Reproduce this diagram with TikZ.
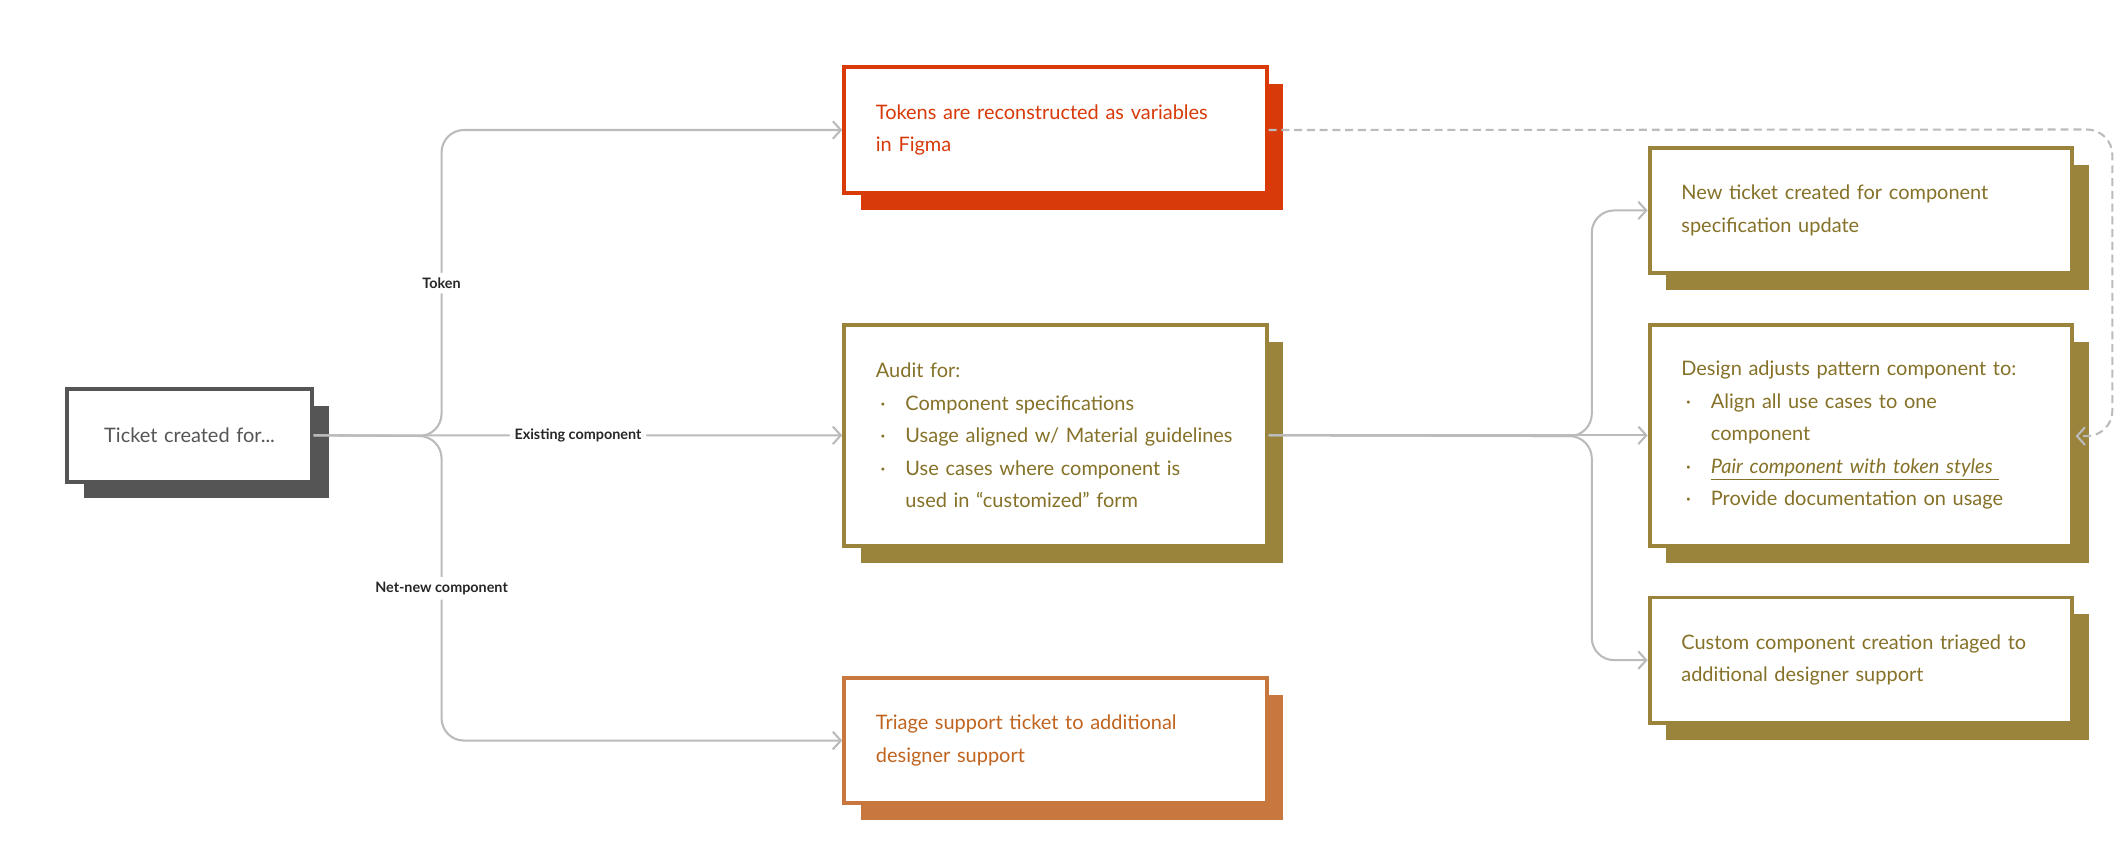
\documentclass[tikz,border=0pt]{standalone}
\usepackage{fontspec}
\setmainfont{Lato}
\usetikzlibrary{shadows,arrows.meta}

\definecolor{tokred}{HTML}{D83A0A}
\definecolor{olivebox}{HTML}{9A843C}
\definecolor{olivetext}{HTML}{857127}
\definecolor{triorange}{HTML}{C8773E}
\definecolor{tritext}{HTML}{C0641F}
\definecolor{darkbox}{HTML}{555555}
\definecolor{conngray}{HTML}{BBBBBB}

\tikzset{
  card/.style={draw=#1, fill=white, line width=2.4pt, anchor=north west,
    minimum width=9.3cm, text width=7.9cm, inner xsep=0.69cm, align=left,
    font=\fontsize{12.5}{20.4}\selectfont,
    general shadow={fill=#1, shadow xshift=0.37cm, shadow yshift=-0.37cm}},
  conn/.style={draw=conngray, line width=1.3pt, rounded corners=14pt,
    -{Straight Barb[length=5pt,width=11pt,line width=1.3pt]}},
  lbl/.style={fill=white, inner sep=3pt, font=\fontsize{9}{10}\selectfont\bfseries, text=black!85}
}
\newcommand{\itm}[1]{\makebox[0.65cm][l]{\hspace{0.1cm}·}#1}
\newcommand{\itmcont}[1]{\makebox[0.65cm][l]{}#1}

\begin{document}
\begin{tikzpicture}[x=0.03cm,y=-0.03cm]
  \useasboundingbox (0,0) rectangle (1560,634);

  \node [card=darkbox, text=darkbox, minimum width=5.3cm, text width=4cm,
         minimum height=2.04cm, align=center] (ticket) at (48,284) {Ticket created for...};
  \node [card=tokred, text=tokred, minimum height=2.76cm] (tokens) at (618,48)
        {Tokens are reconstructed as variables\\in Figma};
  \node [card=olivebox, text=olivetext, minimum height=4.86cm] (audit) at (618,237)
        {Audit for:\\\itm{Component specifications}\\\itm{Usage aligned w/ Material guidelines}\\
         \itm{Use cases where component is}\\\itmcont{used in “customized” form}};
  \node [card=triorange, text=tritext, minimum height=2.76cm] (triage) at (618,496)
        {Triage support ticket to additional\\designer support};

  \node [card=olivebox, text=olivetext, minimum height=2.76cm] (newticket) at (1209,107)
        {New ticket created for component\\specification update};
  \node [card=olivebox, text=olivetext, minimum height=4.86cm] (design) at (1209,237)
        {Design adjusts pattern component to:\\\itm{Align all use cases to one}\\\itmcont{component}\\
         \itm{\underline{\itshape Pair component with token styles\ }}\\\itm{Provide documentation on usage}};
  \node [card=olivebox, text=olivetext, minimum height=2.76cm] (custom) at (1209,437)
        {Custom component creation triaged to\\additional designer support};

  % branches out of the ticket
  \coordinate (split) at (324,320);
  \draw [conn] (ticket.east) -- (split) |- node[lbl, pos=0.25] {Token} (tokens.west);
  \draw [conn] (ticket.east) -- node[lbl] {Existing component} (audit.west);
  \draw [conn] (ticket.east) -- (split) |- node[lbl, pos=0.25] {Net-new component} (triage.west);

  % branches out of the audit
  \coordinate (split2) at (1168,320);
  \draw [conn] (audit.east) -- (split2) |- (newticket.west);
  \draw [conn] (audit.east) -- (design.west);
  \draw [conn] (audit.east) -- (split2) |- (custom.west);

  % token feedback
  \coordinate (back) at (1523,320);
  \draw [conn, dashed, dash pattern=on 5pt off 3pt, rounded corners=16pt]
        (tokens.east) -- (1550,95) |- (back);
\end{tikzpicture}
\end{document}
